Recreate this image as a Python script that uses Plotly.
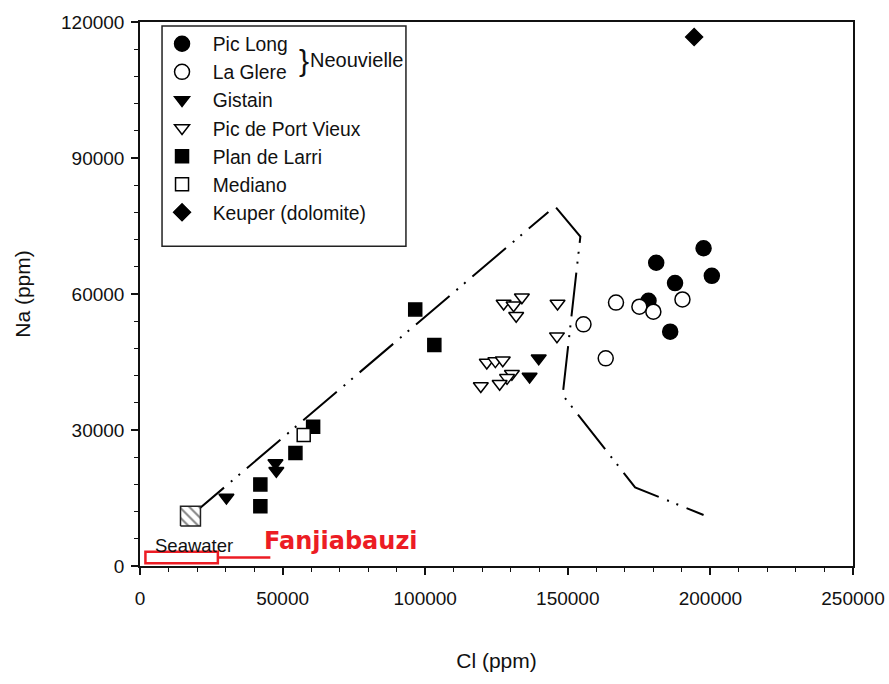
import plotly.graph_objects as go

# ---- sample groups: Cl (ppm) vs Na (ppm) ----
PIC_LONG_CL = [197600, 181000, 200500, 187600, 178300, 185900]
PIC_LONG_NA = [70100, 66900, 64000, 62400, 58500, 51700]

LA_GLERE_CL = [166900, 175100, 180000, 190200, 155500, 163300]
LA_GLERE_NA = [58100, 57200, 56100, 58800, 53300, 45800]

GISTAIN_CL = [30300, 47500, 47800, 139800, 136600]
GISTAIN_NA = [15100, 22700, 21000, 45800, 41800]

PORT_VIEUX_CL = [133900, 127500, 131000, 131900, 146400, 146200,
                 121600, 124600, 127200, 130400, 128700, 126100, 119500]
PORT_VIEUX_NA = [59300, 57900, 57500, 55200, 57900, 50700,
                 44900, 45200, 45400, 42400, 41500, 40200, 39700]

PLAN_LARRI_CL = [42200, 42200, 54500, 60700, 96500, 103200]
PLAN_LARRI_NA = [18000, 13200, 24900, 30700, 56600, 48750]

MEDIANO_CL = [57400]
MEDIANO_NA = [28900]

KEUPER_CL = [194300]
KEUPER_NA = [116700]

SEAWATER_CL = 17700
SEAWATER_NA = 11000

# ---- evolution trends ----
TREND_A_CL = [17700, 143200]
TREND_A_NA = [11000, 78100]
TREND_B_CL = [145900, 154400, 148200, 173600, 197600]
TREND_B_NA = [79050, 72650, 37700, 17350, 11250]

# ---- Fanjiabauzi range box ----
FANJIA_CL = [1900, 27300]
FANJIA_NA = [600, 3150]
FANJIA_LABEL_CL = 45700

X_TICKS = [0, 50000, 100000, 150000, 200000, 250000]
X_TICK_TEXT = ["0", "50000", "100000", "150000", "200000", "250000"]
Y_TICKS = [0, 30000, 60000, 90000, 120000]
Y_TICK_TEXT = ["0", "30000", "60000", "90000", "120000"]

FONT = "Liberation Sans, Arial, sans-serif"
RED = "#EC1C24"
DASH = "44px,9px,2px,8px,2px,9px"
PAD = "\u00a0\u00a0"

fig = go.Figure()

for cl, na in ((TREND_A_CL, TREND_A_NA), (TREND_B_CL, TREND_B_NA)):
    fig.add_trace(go.Scatter(
        x=cl, y=na, mode="lines", showlegend=False, hoverinfo="skip",
        line=dict(color="black", width=2, dash=DASH),
    ))

# hatched seawater square (half-size in axis units)
half_cl, half_na = 3500, 2200
fig.add_trace(go.Scatter(
    x=[SEAWATER_CL - half_cl, SEAWATER_CL + half_cl, SEAWATER_CL + half_cl,
       SEAWATER_CL - half_cl, SEAWATER_CL - half_cl],
    y=[SEAWATER_NA - half_na, SEAWATER_NA - half_na, SEAWATER_NA + half_na,
       SEAWATER_NA + half_na, SEAWATER_NA - half_na],
    mode="lines", fill="toself", showlegend=False, hoverinfo="skip",
    line=dict(color="#222", width=1.5),
    fillcolor="white",
    fillpattern=dict(shape="\\", fgcolor="#111", bgcolor="white", size=7, solidity=0.3),
))

groups = [
    ("Pic Long", PIC_LONG_CL, PIC_LONG_NA, "circle", 15, "black"),
    ("La Glere", LA_GLERE_CL, LA_GLERE_NA, "circle", 15, "white"),
    ("Gistain", GISTAIN_CL, GISTAIN_NA, "triangle-down", 13, "black"),
    ("Pic de Port Vieux", PORT_VIEUX_CL, PORT_VIEUX_NA, "triangle-down", 13, "white"),
    ("Plan de Larri", PLAN_LARRI_CL, PLAN_LARRI_NA, "square", 13, "black"),
    ("Mediano", MEDIANO_CL, MEDIANO_NA, "square", 13, "white"),
    ("Keuper (dolomite)", KEUPER_CL, KEUPER_NA, "diamond", 13, "black"),
]
for name, cl, na, sym, size, fill in groups:
    fig.add_trace(go.Scatter(
        x=cl, y=na, mode="markers", name=PAD + name,
        marker=dict(symbol=sym, size=size, color=fill,
                    line=dict(color="black", width=1.5)),
    ))

# Fanjiabauzi range box and leader
fig.add_shape(type="rect", xref="x", yref="y",
              x0=FANJIA_CL[0], x1=FANJIA_CL[1], y0=FANJIA_NA[0], y1=FANJIA_NA[1],
              line=dict(color=RED, width=2.5), fillcolor="white")
mid_na = (FANJIA_NA[0] + FANJIA_NA[1]) / 2
fig.add_shape(type="line", xref="x", yref="y",
              x0=FANJIA_CL[1], x1=FANJIA_LABEL_CL, y0=mid_na, y1=mid_na,
              line=dict(color=RED, width=2.5))
fig.add_annotation(x=FANJIA_LABEL_CL, y=mid_na, xref="x", yref="y",
                   text="Fanjiabauzi", showarrow=False,
                   xanchor="left", yanchor="bottom", xshift=-8, yshift=1,
                   font=dict(family="DejaVu Sans", size=24, color=RED, weight="bold"))

fig.add_annotation(x=SEAWATER_CL, y=SEAWATER_NA, xref="x", yref="y",
                   text="Seawater", showarrow=False, xanchor="left",
                   xshift=-37, yshift=-29,
                   font=dict(family=FONT, size=18.5, color="#111"))

# legend frame (wide enough to hold the Neouvielle bracket)
fig.add_shape(type="rect", xref="paper", yref="paper",
              x0=0.0309, x1=0.373, y0=0.588, y1=0.9926,
              line=dict(color="#222", width=1.5), fillcolor="white", layer="above")

# brace grouping the two Neouvielle sites in the legend
fig.add_annotation(x=0.2305, y=0.930, xref="paper", yref="paper",
                   text="}", showarrow=False, xanchor="center", yanchor="middle",
                   font=dict(family=FONT, size=30, color="#111"))
fig.add_annotation(x=0.236, y=0.930, xref="paper", yref="paper",
                   text="Neouvielle", showarrow=False, xanchor="left", yanchor="middle",
                   font=dict(family=FONT, size=20, color="#111"))

axis_common = dict(
    showgrid=False, zeroline=False, showline=True, linecolor="#111", linewidth=1.5,
    mirror=True, ticks="outside", ticklen=7, tickwidth=1.5, tickcolor="#111",
    automargin=False,
    tickfont=dict(family=FONT, size=19, color="#111"),
)

fig.update_layout(
    width=889, height=684,
    margin=dict(l=140, r=36, t=22, b=118),
    paper_bgcolor="white", plot_bgcolor="white",
    font=dict(family=FONT, color="#111"),
    xaxis=dict(**axis_common, range=[0, 250000], tickvals=X_TICKS, ticktext=X_TICK_TEXT,
               ticklabelstandoff=7,
               minor=dict(dtick=10000, ticklen=4, tickwidth=1, tickcolor="#111",
                          ticks="outside", showgrid=False),
               title=dict(text="Cl (ppm)", font=dict(family=FONT, size=21, color="#111"),
                          standoff=46)),
    yaxis=dict(**axis_common, range=[0, 120000], tickvals=Y_TICKS, ticktext=Y_TICK_TEXT,
               ticklabelstandoff=3,
               minor=dict(dtick=6000, ticklen=4, tickwidth=1, tickcolor="#111",
                          ticks="outside", showgrid=False),
               title=dict(text="Na (ppm)", font=dict(family=FONT, size=21, color="#111"),
                          standoff=25)),
    legend=dict(x=0.0309, y=0.995, xanchor="left", yanchor="top",
                bgcolor="rgba(0,0,0,0)", borderwidth=0,
                font=dict(family=FONT, size=19.3, color="#111"),
                tracegroupgap=0),
    showlegend=True,
)

fig.write_html("out.html")
